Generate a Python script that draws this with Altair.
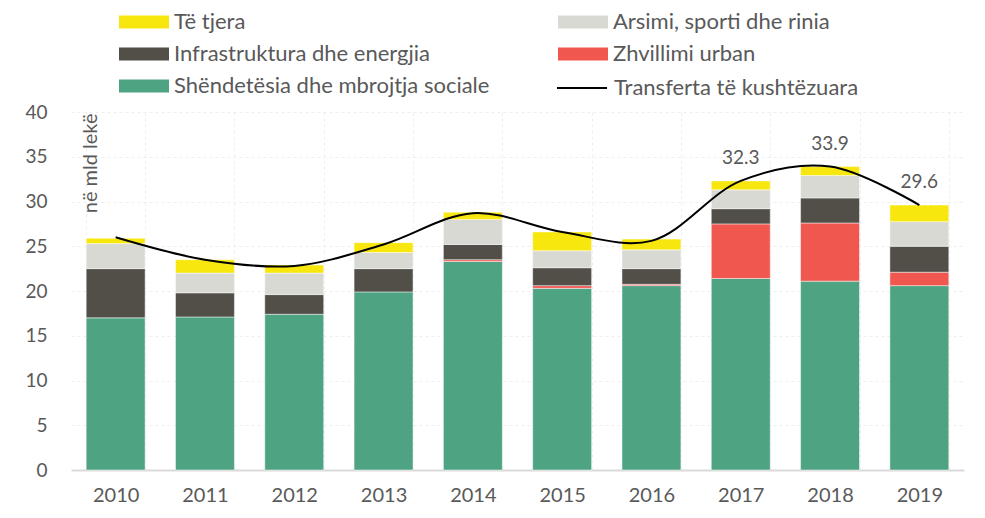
import altair as alt
import pandas as pd

years = ["2010", "2011", "2012", "2013", "2014", "2015", "2016", "2017", "2018", "2019"]
categories = [
    "Shëndetësia dhe mbrojtja sociale",
    "Zhvillimi urban",
    "Infrastruktura dhe energjia",
    "Arsimi, sporti dhe rinia",
    "Të tjera",
]
shendetesia = [17.0, 17.1, 17.4, 19.9, 23.3, 20.3, 20.6, 21.4, 21.1, 20.6]
zhvillimi = [0.0, 0.0, 0.0, 0.0, 0.2, 0.3, 0.15, 6.1, 6.5, 1.5]
infrastruktura = [5.5, 2.7, 2.2, 2.6, 1.7, 2.0, 1.75, 1.7, 2.8, 2.9]
arsimi = [2.8, 2.2, 2.4, 1.8, 2.8, 1.9, 2.1, 2.1, 2.5, 2.75]
te_tjera = [0.6, 1.5, 0.9, 1.1, 0.8, 2.1, 1.2, 1.0, 1.0, 1.85]
transferta = [26.0, 23.5, 22.8, 25.2, 28.7, 26.6, 25.6, 32.3, 33.9, 29.6]
label_years = ["2017", "2018", "2019"]
line_name = "Transferta të kushtëzuara"

series = [shendetesia, zhvillimi, infrastruktura, arsimi, te_tjera]
rows = []
for ci, (cat, vals) in enumerate(zip(categories, series)):
    for y, v in zip(years, vals):
        if v > 0:
            rows.append({"year": y, "cat": cat, "value": v, "ord": ci})
bars_df = pd.DataFrame(rows)

line_df = pd.DataFrame({"year": years, "value": transferta, "series": line_name})
lab_df = line_df[line_df["year"].isin(label_years)].copy()
lab_df["txt"] = lab_df["value"].map(lambda v: f"{v:.1f}")

# legend is filled column by column: 3 rows in column 1, 2 in column 2
legend_order = [
    "Të tjera",
    "Infrastruktura dhe energjia",
    "Shëndetësia dhe mbrojtja sociale",
    "Arsimi, sporti dhe rinia",
    "Zhvillimi urban",
]
color_map = {
    "Të tjera": "#F8E70E",
    "Arsimi, sporti dhe rinia": "#D9D9D4",
    "Infrastruktura dhe energjia": "#514F48",
    "Zhvillimi urban": "#F0574F",
    "Shëndetësia dhe mbrojtja sociale": "#4EA382",
}

FONT = "Lato"
TXT = "#595959"

x_enc = alt.X(
    "year:N",
    sort=years,
    scale=alt.Scale(paddingInner=0.34, paddingOuter=0.17),
    axis=alt.Axis(
        title=None, labelAngle=0, ticks=False, domainColor="#D9D9D9", domainWidth=2,
        grid=True, tickBand="extent", gridColor="#EEEEEE", gridDash=[3, 3],
        labelFontSize=20, labelColor=TXT, labelFont=FONT, labelPadding=15,
    ),
)

bars = alt.Chart(bars_df).mark_bar(stroke="white", strokeWidth=0.8, strokeOpacity=0.6).encode(
    x=x_enc,
    y=alt.Y(
        "value:Q", stack="zero",
        scale=alt.Scale(domain=[0, 40]),
        axis=alt.Axis(
            title="në mld lekë", values=list(range(0, 41, 5)), domain=False, ticks=False,
            grid=True, gridColor="#EEEEEE", gridDash=[3, 3],
            labelFontSize=19, labelColor=TXT, labelFont=FONT, labelPadding=24,
            titleFontSize=20, titleColor=TXT, titleFont=FONT, titleFontWeight="normal",
            titleAngle=-90, titleX=9, titleY=1, titleAlign="right", titleBaseline="top",
        ),
    ),
    color=alt.Color(
        "cat:N",
        scale=alt.Scale(domain=legend_order, range=[color_map[c] for c in legend_order]),
        legend=alt.Legend(
            title=None, orient="none", legendX=62, legendY=-101, columns=2,
            symbolType="M-4,-1.04L4,-1.04L4,1.04L-4,1.04Z", symbolSize=156.25,
            symbolStrokeWidth=0, labelFontSize=22, labelFont=FONT, labelColor=TXT,
            labelOffset=19, rowPadding=10, columnPadding=68, padding=0,
            labelLimit=400,
        ),
    ),
    order=alt.Order("ord:Q", sort="ascending"),
)

line = alt.Chart(line_df).mark_line(interpolate="catmull-rom", strokeWidth=2).encode(
    x=alt.X("year:N", sort=years),
    y=alt.Y("value:Q"),
    stroke=alt.Stroke(
        "series:N",
        scale=alt.Scale(domain=[line_name], range=["#000000"]),
        legend=alt.Legend(
            title=None, orient="none", legendX=485, legendY=-50,
            symbolType="stroke", symbolSize=2500, symbolStrokeWidth=2,
            labelFontSize=22, labelFont=FONT, labelColor=TXT, labelOffset=6,
            padding=0, labelLimit=400,
        ),
    ),
)

labels = alt.Chart(lab_df).mark_text(
    fontSize=19, font=FONT, color=TXT, dy=-23
).encode(
    x=alt.X("year:N", sort=years),
    y=alt.Y("value:Q"),
    text="txt:N",
)

chart = alt.layer(bars, line, labels).properties(
    width=893, height=358,
    autosize=alt.AutoSizeParams(type="none"),
    padding={"left": 63, "top": 104, "right": 12, "bottom": 38},
).configure_view(stroke=None)

chart.save("out.html", embed_options={"renderer": "svg", "actions": False})
